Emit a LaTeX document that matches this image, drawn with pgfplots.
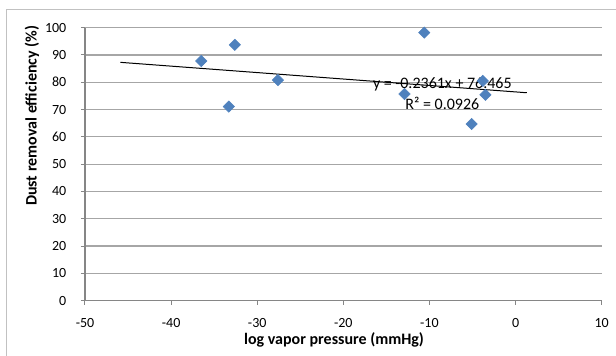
\documentclass[border=0pt]{standalone}
\usepackage{pgfplots}
\pgfplotsset{compat=1.18}
\usepackage{fontspec}
\setmainfont{Carlito}
\definecolor{mk}{HTML}{4F81BD}
\definecolor{gridc}{HTML}{A6A6A6}
\definecolor{axc}{HTML}{868686}
\begin{document}
\begin{tikzpicture}
\useasboundingbox (-63.75pt,-41.5pt) rectangle (398.25pt,225.5pt);
\draw[gridc!70, line width=0.75pt] (-58.75pt,-80pt) rectangle (430pt,218.4pt);
\begin{axis}[
  at={(0,0)}, anchor=south west,
  scale only axis,
  width=387.5pt, height=204.75pt,
  xmin=-50, xmax=10, ymin=0, ymax=100,
  xtick={-50,-40,...,10}, ytick={0,10,...,100},
  axis x line*=bottom, axis y line*=left,
  axis line style={axc, line width=0.9pt, -},
  tick align=outside, major tick length=3pt,
  tick style={axc, line width=0.75pt},
  ymajorgrids, grid style={gridc, line width=0.9pt},
  /pgf/number format/assume math mode=true,
  ticklabel style={font=\fontsize{10.5}{12}\selectfont},
  xticklabel style={yshift=-7pt},
  yticklabel style={xshift=-7.5pt},
  xlabel={\textbf{log vapor pressure (mmHg)}},
  ylabel={\textbf{Dust removal efficiency (\%)}},
  label style={font=\fontsize{12}{14}\selectfont},
  xlabel style={at={(axis description cs:0.482,0)}, anchor=center, yshift=-29.5pt},
  ylabel style={at={(axis description cs:-0.1026,0.677)}, anchor=center},
  clip=false,
]
\addplot[only marks, mark=square*, mark size=3.0pt, mark options={rotate=45, fill=mk, draw=mk}] coordinates {
  (-36.5,87.8) (-32.6,93.7) (-33.3,71.1) (-27.6,80.8) (-10.6,98.2)
  (-3.8,80.5) (-12.9,75.7) (-3.5,75.4) (-5.1,64.7)
};
\addplot[black, line width=0.75pt] coordinates {(-45.9,87.30) (1.3,76.16)};
\node[font=\fontsize{12}{14}\selectfont, inner sep=0pt] at (axis cs:-8.5,79.3) {y = -0.2361x + 76.465};
\node[font=\fontsize{12}{14}\selectfont, inner sep=0pt] at (axis cs:-8.5,72.3) {R² = 0.0926};
\end{axis}
\end{tikzpicture}
\end{document}
